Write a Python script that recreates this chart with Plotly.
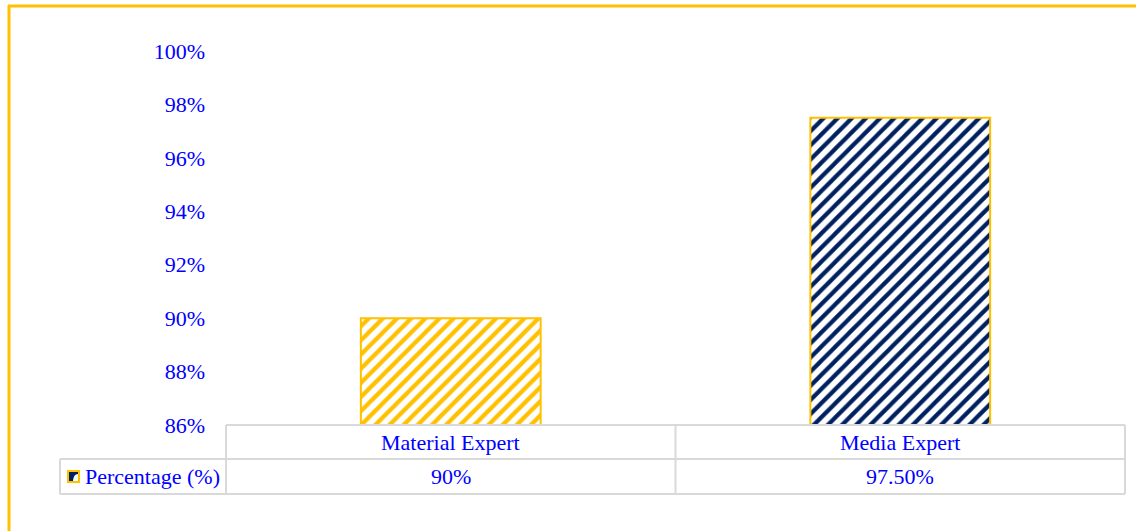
import plotly.graph_objects as go

# ---- data ----
categories = ["Material Expert", "Media Expert"]
values = [90, 97.5]
table_labels = ["90%", "97.50%"]
series_name = "Percentage (%)"
bar_colors = ["#FFC000", "#002060"]
y_ticks = [86, 88, 90, 92, 94, 96, 98, 100]
y_tick_labels = ["86%", "88%", "90%", "92%", "94%", "96%", "98%", "100%"]

# ---- layout geometry (pixels) ----
W, H = 1140, 531
L, R, T, B = 226, 1125, 51, 425
FONT = "Liberation Serif"
BLUE = "#0000FF"
GRID = "#D9D9D9"
GOLD = "#FFC000"
FS = 22


def px(x):
    return (x - L) / (R - L)


def py(y):
    return (B - y) / (B - T)


fig = go.Figure()
fig.add_trace(go.Bar(
    x=categories,
    y=values,
    name=series_name,
    marker=dict(
        color=bar_colors,
        line=dict(color=GOLD, width=2),
        pattern=dict(shape="/", fgcolor=bar_colors, bgcolor="white",
                     size=10, solidity=0.42, fillmode="replace"),
    ),
    showlegend=False,
    hoverinfo="skip",
))

shapes = []
# chart outer border (top and left edges visible)
shapes.append(dict(type="line", xref="paper", yref="paper",
                   x0=px(8), x1=px(1136), y0=py(6), y1=py(6),
                   line=dict(color=GOLD, width=3), layer="below"))
shapes.append(dict(type="line", xref="paper", yref="paper",
                   x0=px(9), x1=px(9), y0=py(5), y1=py(531),
                   line=dict(color=GOLD, width=3), layer="below"))
# data table lines
row1, row2, row3 = 425, 459, 494
for (x0, x1, y0, y1) in [
    (L, R, row1, row1), (60, R, row2, row2), (60, R, row3, row3),
    (L, L, row1, row3), (R, R, row1, row3), (60, 60, row2, row3),
]:
    shapes.append(dict(type="line", xref="paper", yref="paper",
                       x0=px(x0), x1=px(x1), y0=py(y0), y1=py(y1),
                       line=dict(color=GRID, width=2)))
# category divider
shapes.append(dict(type="line", xref="x", yref="paper", x0=0.5, x1=0.5,
                   y0=py(row1), y1=py(row3), line=dict(color=GRID, width=2)))
# legend key
shapes.append(dict(type="rect", xref="paper", yref="paper",
                   x0=px(68), x1=px(79), y0=py(471), y1=py(482),
                   fillcolor="#002060", line=dict(color=GOLD, width=2)))
shapes.append(dict(type="path", xref="paper", yref="paper",
                   path=f"M {px(73)} {py(481)} Q {px(73.5)} {py(474)} {px(78)} {py(474)} L {px(78)} {py(481)} Z",
                   fillcolor="white", line=dict(width=0)))

annotations = []
for i, cat in enumerate(categories):
    annotations.append(dict(x=i, y=py((row1 + row2) / 2), xref="x", yref="paper",
                            xanchor="center", yanchor="middle",
                            text=cat, showarrow=False,
                            font=dict(family=FONT, size=FS, color=BLUE)))
    annotations.append(dict(x=i, y=py((row2 + row3) / 2), xref="x", yref="paper",
                            xanchor="center", yanchor="middle",
                            text=table_labels[i], showarrow=False,
                            font=dict(family=FONT, size=FS, color=BLUE)))
annotations.append(dict(x=px(83), y=py((row2 + row3) / 2), xref="paper", yref="paper",
                        xanchor="left", yanchor="middle", text=series_name, showarrow=False,
                        font=dict(family=FONT, size=FS, color=BLUE)))

fig.update_layout(
    width=W, height=H,
    margin=dict(l=L, r=W - R, t=T, b=H - B),
    paper_bgcolor="white", plot_bgcolor="white",
    bargap=0.6,
    shapes=shapes,
    annotations=annotations,
    xaxis=dict(range=[-0.5, 1.5], showticklabels=False, showgrid=False,
               zeroline=False, showline=False, ticks=""),
    yaxis=dict(range=[86, 100], tickvals=y_ticks, ticktext=y_tick_labels,
               showgrid=False, zeroline=False, showline=False, ticks="",
               ticklabelstandoff=20,
               tickfont=dict(family=FONT, size=FS, color=BLUE)),
)

fig.write_html("out.html")
